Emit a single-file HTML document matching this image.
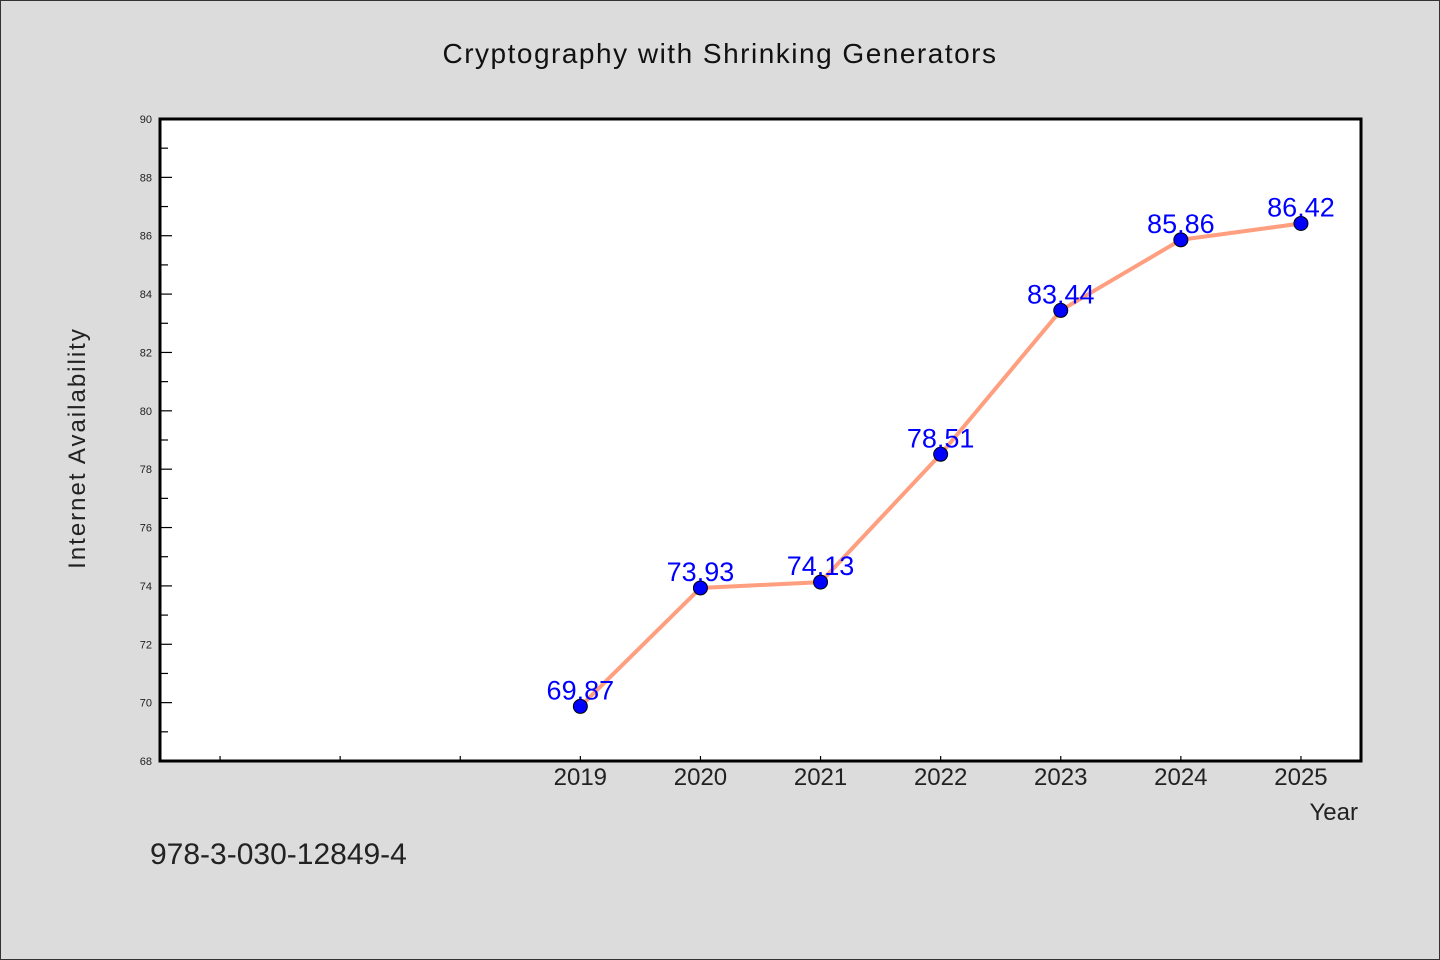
<!DOCTYPE html>
<html><head><meta charset="utf-8"><style>
body{margin:0;background:#dcdcdc;}
svg{display:block;font-family:"WenQuanYi Zen Hei","Liberation Sans",sans-serif;}
</style></head><body>
<svg id="c" width="1440" height="960">
<rect x="0.5" y="0.5" width="1439" height="959" fill="#dcdcdc" stroke="#333"/>
<text x="720" y="63" text-anchor="middle" font-size="28" fill="#111" letter-spacing="1.5">Cryptography with Shrinking Generators</text>
<rect x="160" y="119" width="1201" height="642" fill="#fff"/>
<g id="axes"></g>
<g id="marks"></g>
<rect x="160" y="119" width="1201" height="642" fill="none" stroke="#000" stroke-width="3"/>
<text x="85" y="448" text-anchor="middle" font-size="24" fill="#222" letter-spacing="2" transform="rotate(-90 85 448)">Internet Availability</text>
<text x="1358" y="820" text-anchor="end" font-size="24" fill="#222">Year</text>
<text x="150" y="864" font-size="30" fill="#222">978-3-030-12849-4</text>
</svg>
<script>
const years=[2019,2020,2021,2022,2023,2024,2025];
const values=[69.87,73.93,74.13,78.51,83.44,85.86,86.42];
const labels=["69.87","73.93","74.13","78.51","83.44","85.86","86.42"];
const yTicks=[68,70,72,74,76,78,80,82,84,86,88,90];
const xMinorTicks=[2016,2017,2018];
const NS="http://www.w3.org/2000/svg";
const X0=160,X1=1361,Y0=761,Y1=119;
const xs=v=>X0+(v-2015.5)/(10)*(X1-X0);
const ys=v=>Y0-(v-68)/22*(Y0-Y1);
function mk(t,a,p){const e=document.createElementNS(NS,t);for(const k in a)e.setAttribute(k,a[k]);p.appendChild(e);return e;}
const ax=document.getElementById('axes'),mg=document.getElementById('marks');
for(let v=68;v<=90;v++){
 const l=mk('line',{x1:X0,x2:X0+(v%2===0?12:8),y1:ys(v),y2:ys(v),stroke:'#000','stroke-width':1.2},ax);
 
 
}
yTicks.forEach(v=>{
 const t=mk('text',{x:X0-8,y:ys(v)+4,'text-anchor':'end','font-size':11,fill:'#222'},ax);t.textContent=v;
 
 
});
xMinorTicks.concat(years).forEach(v=>{
 const l=mk('line',{x1:xs(v),x2:xs(v),y1:Y0,y2:Y0-5,stroke:'#000','stroke-width':1.2},ax);
 
 
});
years.forEach(v=>{
 const t=mk('text',{x:xs(v),y:785,'text-anchor':'middle','font-size':24,fill:'#222'},ax);t.textContent=v;
 
 
});
const pl=mk('polyline',{points:years.map((y,i)=>xs(y)+','+ys(values[i])).join(' '),fill:'none',stroke:'#ff9f7f','stroke-width':4},mg);


years.forEach((y,i)=>{
 const c=mk('circle',{cx:xs(y),cy:ys(values[i]),r:7,fill:'#0000ff',stroke:'#000','stroke-width':1},mg);
 
 
});
years.forEach((y,i)=>{
 const t=mk('text',{x:xs(y),y:ys(values[i])-7,'text-anchor':'middle','font-size':27,fill:'#0000ff'},mg);t.textContent=labels[i];
 
 
});
</script>
</body></html>
